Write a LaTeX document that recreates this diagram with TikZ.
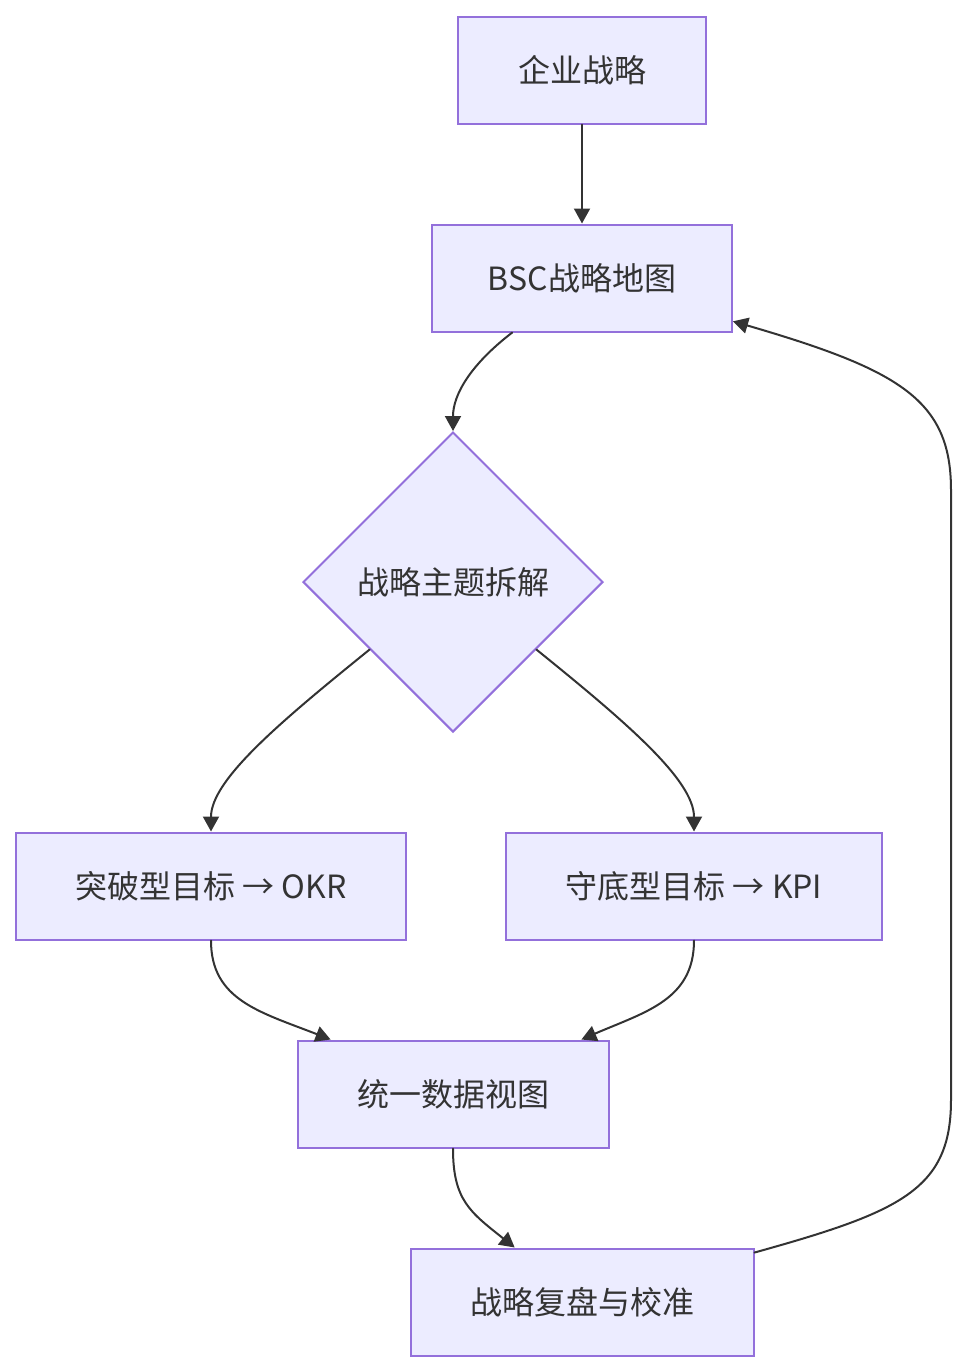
\documentclass[tikz,border=0pt]{standalone}
\usepackage{fontspec}
\setmainfont{Noto Sans CJK SC}
\usetikzlibrary{arrows.meta,shapes.geometric}
\definecolor{boxfill}{HTML}{ECECFF}
\definecolor{boxline}{HTML}{9370DB}
\definecolor{ink}{HTML}{333333}
\begin{document}
\begin{tikzpicture}[x=0.5pt,y=-0.5pt,>={Triangle[length=7.5pt,width=8pt]},line cap=round,
  font=\fontsize{16}{19}\selectfont,
  box/.style={draw=boxline,fill=boxfill,line width=1pt,text=ink,minimum height=53.5pt,inner sep=0pt},
  choice/.style={diamond,draw=boxline,fill=boxfill,line width=1pt,text=ink,minimum width=150pt,minimum height=150pt,inner sep=0pt,aspect=1},
  flow/.style={->,draw=ink,line width=1pt}]
\useasboundingbox (0,0) rectangle (968,1372);
\node[box,minimum width=124pt] (strat) at (582,70) {企业战略};
\node[box,minimum width=150pt] (bsc) at (582,278) {BSC战略地图};
\node[choice] (split) at (453,582) {战略主题拆解};
\node[box,minimum width=195pt] (okr) at (211,886) {突破型目标 → OKR};
\node[box,minimum width=188pt] (kpi) at (694,886) {守底型目标 → KPI};
\node[box,minimum width=155.5pt] (view) at (453,1094) {统一数据视图};
\node[box,minimum width=171.5pt] (review) at (582,1302) {战略复盘与校准};
\draw[flow] (strat.south) -- (bsc.north);
\draw[flow] (bsc.218.5) .. controls (470,365) and (453,395) .. (split.north);
\draw[flow] (split.219.3) .. controls (280,722) and (211,780) .. (okr.north);
\draw[flow] (split.-39) .. controls (626,722) and (694,780) .. (kpi.north);
\draw[flow] (okr.south) .. controls (211,1000) and (260,1012) .. (view.156.8);
\draw[flow] (kpi.south) .. controls (694,1000) and (645,1012) .. (view.23.2);
\draw[flow] (view.south) .. controls (453,1200) and (470,1212) .. (review.141.5);
\draw[flow] (review.16.2) .. controls (900,1212) and (951,1190) .. (951,1100)
  -- (951,490) .. controls (951,400) and (900,370) .. (bsc.-16.3);
\end{tikzpicture}
\end{document}
